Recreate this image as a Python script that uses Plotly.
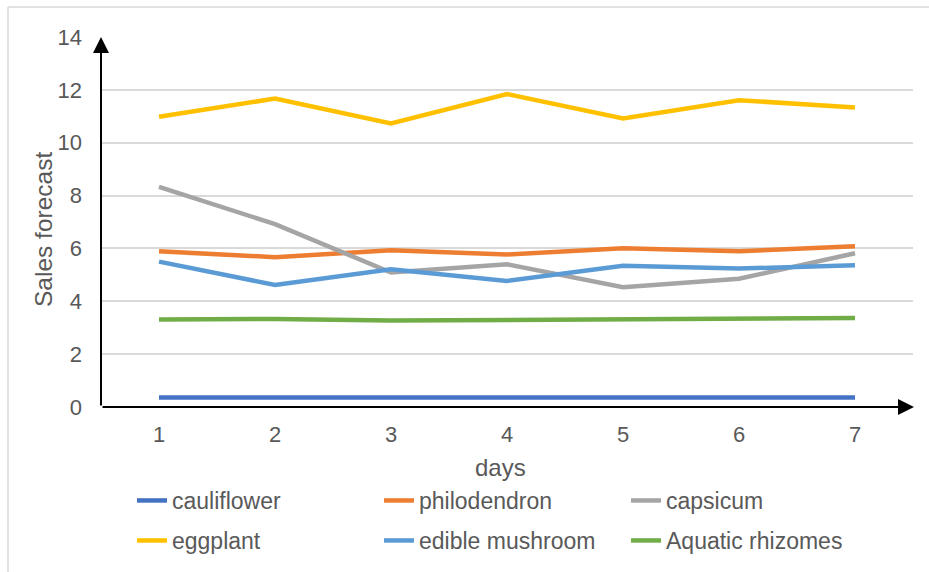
import plotly.graph_objects as go

days = [1, 2, 3, 4, 5, 6, 7]
cauliflower = [0.36, 0.36, 0.36, 0.36, 0.36, 0.36, 0.36]
philodendron = [5.89, 5.67, 5.93, 5.77, 6.01, 5.89, 6.08]
capsicum = [8.33, 6.92, 5.09, 5.40, 4.53, 4.85, 5.82]
eggplant = [10.98, 11.67, 10.73, 11.84, 10.92, 11.61, 11.33]
edible_mushroom = [5.50, 4.62, 5.21, 4.77, 5.34, 5.24, 5.36]
aquatic_rhizomes = [3.31, 3.33, 3.27, 3.30, 3.31, 3.35, 3.37]

y_ticks = [0, 2, 4, 6, 8, 10, 12, 14]

series = [
    ("cauliflower", cauliflower, "#4472C4", "legend"),
    ("philodendron", philodendron, "#ED7D31", "legend"),
    ("capsicum", capsicum, "#A5A5A5", "legend"),
    ("eggplant", eggplant, "#FFC000", "legend2"),
    ("edible mushroom", edible_mushroom, "#5B9BD5", "legend2"),
    ("Aquatic rhizomes", aquatic_rhizomes, "#70AD47", "legend2"),
]

FONT = "Liberation Sans, Arial, sans-serif"
TXT = "#595959"

fig = go.Figure()
for name, vals, color, lg in series:
    fig.add_trace(go.Scatter(
        x=days, y=vals, name=name, mode="lines",
        line=dict(color=color, width=4.5, shape="linear"),
        legend=lg,
    ))

W, H = 929, 572
L, R, T, B = 101, 913, 37, 407


def px_x(p):
    return (p - L) / (R - L)


def px_y(p):
    return (B - p) / (B - T)


legend_common = dict(
    orientation="h",
    font=dict(family=FONT, size=23, color=TXT),
    entrywidth=202,
    entrywidthmode="pixels",
    bgcolor="rgba(0,0,0,0)",
    xanchor="left",
    yanchor="middle",
    itemwidth=30,
)

fig.update_layout(
    width=W, height=H,
    margin=dict(l=L, r=W - R, t=T, b=H - B, pad=0, autoexpand=False),
    paper_bgcolor="white",
    plot_bgcolor="white",
    font=dict(family=FONT, size=22, color=TXT),
    showlegend=True,
    legend=dict(x=px_x(132), y=px_y(500.5), **legend_common),
    legend2=dict(x=px_x(132), y=px_y(540.5), **legend_common),
    xaxis=dict(
        range=[0.5, 7.5],
        tickvals=days,
        ticktext=[str(d) for d in days],
        showgrid=False, zeroline=False, showline=False,
        ticks="", ticklabelstandoff=12, automargin=False,
        tickfont=dict(family=FONT, size=22, color=TXT),
    ),
    yaxis=dict(
        range=[0, 14],
        tickvals=y_ticks,
        showgrid=True, gridcolor="#D9D9D9", gridwidth=1.5,
        zeroline=False, showline=False,
        ticks="", ticklabelstandoff=18, automargin=False,
        tickfont=dict(family=FONT, size=22, color=TXT),
    ),
    shapes=[
        dict(type="line", xref="paper", yref="paper",
             x0=px_x(8), x1=px_x(8), y0=px_y(7), y1=px_y(600),
             line=dict(color="#D9D9D9", width=1.5)),
        dict(type="line", xref="paper", yref="paper",
             x0=px_x(8), x1=px_x(940), y0=px_y(7), y1=px_y(7),
             line=dict(color="#D9D9D9", width=1.5)),
    ],
    annotations=[
        dict(xref="paper", yref="paper", x=px_x(43), y=px_y(230),
             text="Sales forecast", textangle=-90, showarrow=False,
             xanchor="center", yanchor="middle",
             font=dict(family=FONT, size=24.5, color=TXT)),
        dict(xref="paper", yref="paper", x=px_x(500), y=px_y(467),
             text="days", showarrow=False,
             xanchor="center", yanchor="middle",
             font=dict(family=FONT, size=24, color=TXT)),
        dict(xref="x domain", yref="y domain", x=px_x(914), y=0,
             axref="x domain", ayref="y domain", ax=0, ay=0,
             showarrow=True, arrowhead=2, arrowsize=1.6, arrowwidth=2,
             arrowcolor="black", text="", standoff=0),
        dict(xref="x domain", yref="y domain", x=0, y=1.0,
             axref="x domain", ayref="y domain", ax=0, ay=0,
             showarrow=True, arrowhead=2, arrowsize=1.6, arrowwidth=2,
             arrowcolor="black", text="", standoff=0),
    ],
)

fig.write_html("out.html")
